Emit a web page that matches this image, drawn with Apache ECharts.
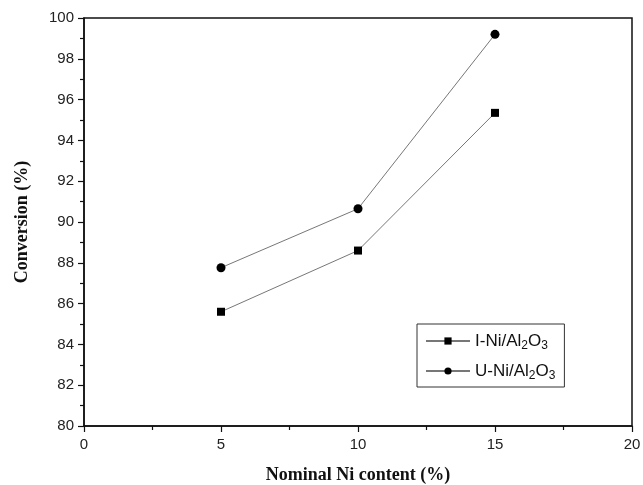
<!DOCTYPE html>
<html>
<head>
<meta charset="utf-8">
<script src="https://cdn.jsdelivr.net/npm/echarts@6/dist/echarts.min.js"></script>
<style>
  html, body { margin: 0; padding: 0; background: #fff; }
  #chart { width: 643px; height: 485px; }
</style>
</head>
<body>
<div id="chart"></div>
<script>
// Nominal Ni loading (%) and measured conversion (%) for the two catalysts
const niContent = [5, 10, 15];
const convI = [85.6, 88.6, 95.35];
const convU = [87.76, 90.65, 99.2];

const seriesNames = ['I-Ni/Al2O3', 'U-Ni/Al2O3'];

const chart = echarts.init(document.getElementById('chart'), null, { renderer: 'canvas' });

function pairs(xs, ys) {
  return xs.map((x, i) => [x, ys[i]]);
}

// legend text with chemical subscripts
function formulaLabel(name) {
  const m = name.match(/^(.*Al)2O3$/);
  return '{n|' + m[1] + '}{s|2}{n|O}{s|3}';
}

const axisFont = { fontFamily: 'Liberation Sans, Arial, sans-serif', fontSize: 15, color: '#222' };
const titleFont = { fontFamily: 'Liberation Serif, Times New Roman, serif', fontSize: 18, fontWeight: 'bold', color: '#111' };

chart.setOption({
  animation: false,
  backgroundColor: '#fff',
  grid: {
    left: 84, right: 11, top: 18, bottom: 59,
    outerBoundsMode: 'none',
    show: true, borderColor: '#111', borderWidth: 1.5
  },
  legend: {
    data: seriesNames,
    orient: 'vertical',
    left: 417, top: 324,
    padding: [4, 9, 5, 8],
    itemGap: 6,
    itemWidth: 44, itemHeight: 9,
    borderColor: '#333', borderWidth: 1,
    formatter: formulaLabel,
    textStyle: {
      rich: {
        n: { fontFamily: 'Liberation Sans, Arial, sans-serif', fontSize: 17, color: '#111', lineHeight: 22, verticalAlign: 'middle' },
        s: { fontFamily: 'Liberation Sans, Arial, sans-serif', fontSize: 12, color: '#111', lineHeight: 22, verticalAlign: 'bottom', padding: [12, 0, 0, 0] }
      }
    }
  },
  xAxis: {
    type: 'value',
    min: 0, max: 20, interval: 5,
    name: 'Nominal Ni content (%)',
    nameLocation: 'middle', nameGap: 40,
    nameTextStyle: titleFont,
    axisLine: { lineStyle: { color: '#111', width: 1.5 } },
    axisTick: { inside: false, length: 6, lineStyle: { color: '#111', width: 1.2 } },
    minorTick: { show: true, splitNumber: 2, length: 4, lineStyle: { color: '#111', width: 1.2 } },
    axisLabel: Object.assign({ margin: 11 }, axisFont),
    splitLine: { show: false }
  },
  yAxis: {
    type: 'value',
    min: 80, max: 100, interval: 2,
    name: 'Conversion (%)',
    nameLocation: 'middle', nameGap: 53,
    nameTextStyle: titleFont,
    axisLine: { lineStyle: { color: '#111', width: 1.5 } },
    axisTick: { inside: false, length: 6, lineStyle: { color: '#111', width: 1.2 } },
    minorTick: { show: true, splitNumber: 2, length: 4, lineStyle: { color: '#111', width: 1.2 } },
    axisLabel: Object.assign({ margin: 10 }, axisFont),
    splitLine: { show: false }
  },
  series: [
    {
      name: seriesNames[0],
      type: 'line',
      data: pairs(niContent, convI),
      symbol: 'rect', symbolSize: 8,
      itemStyle: { color: '#000' },
      lineStyle: { color: '#777', width: 1 }
    },
    {
      name: seriesNames[1],
      type: 'line',
      data: pairs(niContent, convU),
      symbol: 'circle', symbolSize: 9,
      itemStyle: { color: '#000' },
      lineStyle: { color: '#777', width: 1 }
    }
  ]
});
</script>
</body>
</html>
